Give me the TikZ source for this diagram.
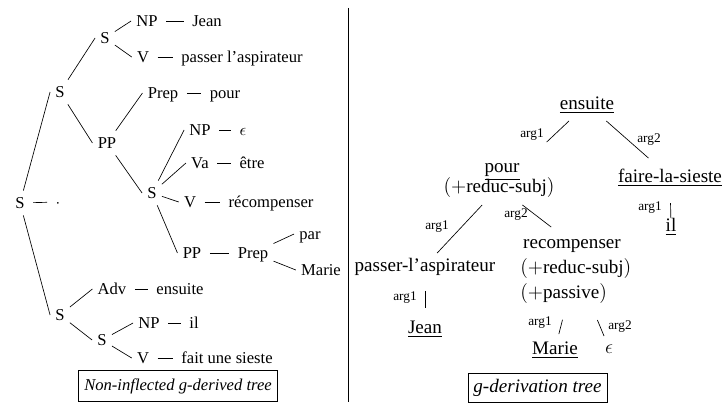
\documentclass[tikz,border=0pt]{standalone}
\usepackage{amsmath}
\usepackage{fontspec}
\setmainfont{Liberation Serif}
\usepackage{tikz}
\tikzset{
  cat/.style={inner sep=3pt, text height=1.6ex, text depth=.25ex},
  hline/.style={draw, shorten <=2pt, shorten >=2pt},
  lex/.style={inner sep=0pt, text height=1.7ex, text depth=.3ex, font=\fontsize{11.5}{14}\selectfont},
  arglab/.style={inner sep=0pt, font=\footnotesize},
  capbox/.style={draw, font=\itshape, inner xsep=3.3pt}
}

\begin{document}
\begin{tikzpicture}[x=0.6024pt,y=-0.6024pt]
    \useasboundingbox (0,0) rectangle (722,403);
    % Left: non-inflected derived tree
    \node[cat] (s0)    at (20,203)  {S};
    \node[cat] (dot)   at (58,202)  {$\cdot$};
    \node[cat] (s1)    at (60,92)   {S};
    \node[cat] (s11)   at (105,38)  {S};
    \node[cat] (np1)   at (147,21)  {NP};
    \node[cat] (jean)  at (207,21)  {Jean};
    \node[cat] (v1)    at (143,57)  {V};
    \node[cat] (pasp)  at (242,57)  {passer l'aspirateur};
    \node[cat] (pp1)   at (107,143) {PP};
    \node[cat] (prep1) at (163,93)  {Prep};
    \node[cat] (pour1) at (225,93)  {pour};
    \node[cat] (s12)   at (152,193) {S};
    \node[cat] (np2)   at (200,130) {NP};
    \node[cat] (eps1)  at (243,130) {$\epsilon$};
    \node[cat] (va)    at (200,163) {Va};
    \node[cat] (etre)  at (252,163) {être};
    \node[cat] (v2)    at (190,202) {V};
    \node[cat] (recomp) at (271,202) {récompenser};
    \node[cat] (pp2)   at (192,253) {PP};
    \node[cat] (prep2) at (253,253) {Prep};
    \node[cat] (par)   at (310,234) {par};
    \node[cat] (marie1) at (321,270) {Marie};
    \node[cat] (s2)    at (60,315)  {S};
    \node[cat] (adv)   at (112,289) {Adv};
    \node[cat] (ens1)  at (180,289) {ensuite};
    \node[cat] (s21)   at (102,340) {S};
    \node[cat] (np3)   at (149,323) {NP};
    \node[cat] (il1)   at (194,323) {il};
    \node[cat] (v3)    at (143,358) {V};
    \node[cat] (fus)   at (227,358) {fait une sieste};
    % branches
    \draw (s0) -- (s1.west);
    \draw (s0) -- (s2.west);
    \draw (s1) -- (s11.west);
    \draw (s1) -- (pp1.west);
    \draw (s11) -- (np1.west);
    \draw (s11) -- (v1.west);
    \draw (pp1) -- (prep1.west);
    \draw (pp1) -- (s12.west);
    \draw (s12) -- (np2.west);
    \draw (s12) -- (va.west);
    \draw (s12) -- (v2.west);
    \draw (s12) -- (pp2.west);
    \draw (prep2) -- (par.west);
    \draw (prep2) -- (marie1.west);
    \draw (s2) -- (adv.west);
    \draw (s2) -- (s21.west);
    \draw (s21) -- (np3.west);
    \draw (s21) -- (v3.west);
    % dashes to the words
    \draw[hline] (s0) -- (dot);
    \draw[hline] (np1) -- (jean);
    \draw[hline] (v1) -- (pasp);
    \draw[hline] (prep1) -- (pour1);
    \draw[hline] (np2) -- (eps1);
    \draw[hline] (va) -- (etre);
    \draw[hline] (v2) -- (recomp);
    \draw[hline] (pp2) -- (prep2);
    \draw[hline] (adv) -- (ens1);
    \draw[hline] (np3) -- (il1);
    \draw[hline] (v3) -- (fus);
    \node[capbox, minimum height=18.5pt] (capL) at (178,386) {Non-inflected g-derived tree};

    % Separator
    \draw (348,8) -- (348,402);

    % Right: derivation tree
    \node[lex] (ens)   at (587,104) {\underline{ensuite}};
    \node[lex] (pour)  at (502,167) {\underline{pour}};
    \node[lex] (pourf) at (499,187) {$(+$reduc-subj$)$};
    \node[lex] (fls)   at (670,177) {\underline{faire-la-sieste}};
    \node[lex] (il)    at (671,226) {\underline{il}};
    \node[lex] (pa)    at (425,266) {passer-l'aspirateur};
    \node[lex] (jean2) at (425,328) {\underline{Jean}};
    \node[lex] (rec)   at (572,243) {recompenser};
    \node[lex, anchor=west] (recf1) at (520,268) {$(+$reduc-subj$)$};
    \node[lex, anchor=west] (recf2) at (520,293) {$(+$passive$)$};
    \node[lex] (marie) at (555,349) {\underline{Marie}};
    \node[lex] (eps)   at (609,348) {$\epsilon$};
    \draw[shorten <=14.9pt, shorten >=39.5pt] (ens.center) -- (pourf.center);
    \draw[shorten <=15.5pt, shorten >=17.3pt] (ens.center) -- (fls.center);
    \draw[shorten <=14.9pt, shorten >=10.7pt] (pourf.center) -- (pa.center);
    \draw[shorten <=17.8pt, shorten >=15.8pt] (pourf.center) -- (rec.center);
    \draw[shorten <=15.7pt, shorten >=4.8pt] (fls.center) -- (il.center);
    \draw[shorten <=15pt, shorten >=12pt] (pa.center) -- (jean2.center);
    \draw[shorten <=32.2pt, shorten >=9.3pt] (recf1.center) -- (marie.center);
    \draw[shorten <=33.9pt, shorten >=7.8pt] (recf1.center) -- (eps.center);
    % argument labels
    \node[arglab] (a1ens)  at (532,135) {arg1};
    \node[arglab] (a2ens)  at (649,140) {arg2};
    \node[arglab] (a1pour) at (437,227) {arg1};
    \node[arglab] (a2pour) at (516,215) {arg2};
    \node[arglab] (a1fls)  at (650,208) {arg1};
    \node[arglab] (a1pa)   at (405,298) {arg1};
    \node[arglab] (a1rec)  at (540,323) {arg1};
    \node[arglab] (a2rec)  at (620,327) {arg2};
    \node[capbox, minimum height=17.5pt, font=\fontsize{11.5}{14}\selectfont\itshape] (capR) at (537.5,387.5) {g-derivation tree};
\end{tikzpicture}
\end{document}
